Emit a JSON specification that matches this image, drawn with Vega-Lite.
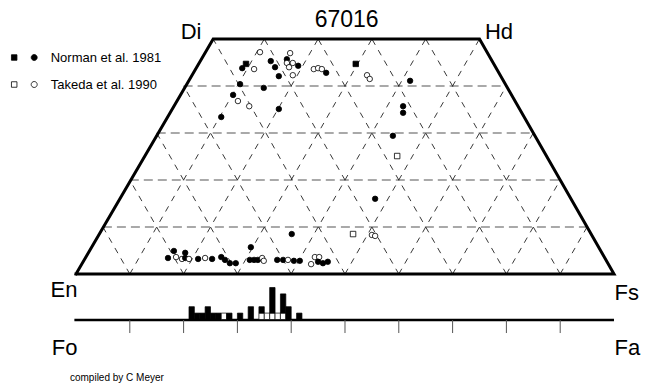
{
  "$schema": "https://vega.github.io/schema/vega-lite/v6.json",
  "width": 653,
  "height": 389,
  "padding": 0,
  "autosize": {"type": "none"},
  "background": "white",
  "config": {"view": {"stroke": null}, "font": "Liberation Sans"},
  "datasets": {
    "trap": [
      {"x": 0, "w": 0, "o": 1},
      {"x": 25.5, "w": 50, "o": 2},
      {"x": 75, "w": 50, "o": 3},
      {"x": 100, "w": 0, "o": 4},
      {"x": 0, "w": 0, "o": 5}
    ],
    "hgrid": [
      {"x1": 5, "w1": 10, "x2": 95, "w2": 10},
      {"x1": 10, "w1": 20, "x2": 90, "w2": 20},
      {"x1": 15, "w1": 30, "x2": 85, "w2": 30},
      {"x1": 20, "w1": 40, "x2": 80, "w2": 40}
    ],
    "dgrid": [
      {"x1": 10, "w1": 0, "x2": 35, "w2": 50},
      {"x1": 20, "w1": 0, "x2": 45, "w2": 50},
      {"x1": 30, "w1": 0, "x2": 55, "w2": 50},
      {"x1": 40, "w1": 0, "x2": 65, "w2": 50},
      {"x1": 50, "w1": 0, "x2": 75, "w2": 50},
      {"x1": 60, "w1": 0, "x2": 80, "w2": 40},
      {"x1": 70, "w1": 0, "x2": 85, "w2": 30},
      {"x1": 80, "w1": 0, "x2": 90, "w2": 20},
      {"x1": 90, "w1": 0, "x2": 95, "w2": 10},
      {"x1": 10, "w1": 0, "x2": 5, "w2": 10},
      {"x1": 20, "w1": 0, "x2": 10, "w2": 20},
      {"x1": 30, "w1": 0, "x2": 15, "w2": 30},
      {"x1": 40, "w1": 0, "x2": 20, "w2": 40},
      {"x1": 50, "w1": 0, "x2": 25.5, "w2": 50},
      {"x1": 60, "w1": 0, "x2": 35, "w2": 50},
      {"x1": 70, "w1": 0, "x2": 45, "w2": 50},
      {"x1": 80, "w1": 0, "x2": 55, "w2": 50},
      {"x1": 90, "w1": 0, "x2": 65, "w2": 50}
    ],
    "fofa": [{"x1": -0.3, "w1": -9.79, "x2": 100, "w2": -9.79}],
    "ticks": [
      {"x1": 10, "w1": -9.79, "w2": -12.56},
      {"x1": 20, "w1": -9.79, "w2": -12.56},
      {"x1": 30, "w1": -9.79, "w2": -12.56},
      {"x1": 40, "w1": -9.79, "w2": -12.56},
      {"x1": 50, "w1": -9.79, "w2": -12.56},
      {"x1": 60, "w1": -9.79, "w2": -12.56},
      {"x1": 70, "w1": -9.79, "w2": -12.56},
      {"x1": 80, "w1": -9.79, "w2": -12.56},
      {"x1": 90, "w1": -9.79, "w2": -12.56}
    ],
    "labR": [
      {"t": "Di", "x": 23.33, "w": 50.0},
      {"t": "En", "x": 0.28, "w": -4.89},
      {"t": "Fo", "x": 0.28, "w": -17.13}
    ],
    "labL": [
      {"t": "Hd", "x": 76.02, "w": 50.0},
      {"t": "Fs", "x": 100.1, "w": -5.53},
      {"t": "Fa", "x": 100.1, "w": -17.13}
    ],
    "title": [{"t": "67016", "x": 50.3, "w": 52.55}],
    "note": [{"t": "compiled by C Meyer", "x": -1.12, "w": -22.77}],
    "pts": [
      {"x": 34.2, "w": 47.2, "src": "Takeda et al. 1990", "sym": "circle"},
      {"x": 31.6, "w": 44.7, "src": "Norman et al. 1981", "sym": "square"},
      {"x": 30.9, "w": 43.8, "src": "Norman et al. 1981", "sym": "circle"},
      {"x": 33.1, "w": 43.6, "src": "Takeda et al. 1990", "sym": "circle"},
      {"x": 39.8, "w": 47.0, "src": "Takeda et al. 1990", "sym": "circle"},
      {"x": 36.2, "w": 45.3, "src": "Norman et al. 1981", "sym": "circle"},
      {"x": 39.2, "w": 45.7, "src": "Norman et al. 1981", "sym": "circle"},
      {"x": 39.2, "w": 44.9, "src": "Takeda et al. 1990", "sym": "circle"},
      {"x": 40.3, "w": 44.9, "src": "Takeda et al. 1990", "sym": "circle"},
      {"x": 39.6, "w": 44.0, "src": "Takeda et al. 1990", "sym": "circle"},
      {"x": 41.3, "w": 44.3, "src": "Norman et al. 1981", "sym": "circle"},
      {"x": 37.0, "w": 44.0, "src": "Norman et al. 1981", "sym": "circle"},
      {"x": 37.7, "w": 42.1, "src": "Norman et al. 1981", "sym": "circle"},
      {"x": 40.3, "w": 42.3, "src": "Takeda et al. 1990", "sym": "circle"},
      {"x": 44.2, "w": 43.6, "src": "Takeda et al. 1990", "sym": "circle"},
      {"x": 45.0, "w": 43.8, "src": "Takeda et al. 1990", "sym": "circle"},
      {"x": 45.7, "w": 43.6, "src": "Takeda et al. 1990", "sym": "circle"},
      {"x": 46.5, "w": 42.8, "src": "Norman et al. 1981", "sym": "circle"},
      {"x": 52.0, "w": 44.7, "src": "Norman et al. 1981", "sym": "square"},
      {"x": 54.1, "w": 42.3, "src": "Takeda et al. 1990", "sym": "circle"},
      {"x": 54.6, "w": 41.5, "src": "Takeda et al. 1990", "sym": "circle"},
      {"x": 30.5, "w": 40.4, "src": "Norman et al. 1981", "sym": "circle"},
      {"x": 34.9, "w": 39.6, "src": "Norman et al. 1981", "sym": "circle"},
      {"x": 29.2, "w": 38.1, "src": "Norman et al. 1981", "sym": "circle"},
      {"x": 30.1, "w": 36.8, "src": "Takeda et al. 1990", "sym": "circle"},
      {"x": 32.2, "w": 35.7, "src": "Takeda et al. 1990", "sym": "circle"},
      {"x": 37.7, "w": 35.1, "src": "Norman et al. 1981", "sym": "circle"},
      {"x": 27.0, "w": 33.4, "src": "Norman et al. 1981", "sym": "circle"},
      {"x": 62.1, "w": 41.1, "src": "Norman et al. 1981", "sym": "circle"},
      {"x": 60.8, "w": 35.7, "src": "Norman et al. 1981", "sym": "circle"},
      {"x": 60.8, "w": 34.3, "src": "Norman et al. 1981", "sym": "circle"},
      {"x": 58.9, "w": 29.4, "src": "Norman et al. 1981", "sym": "circle"},
      {"x": 59.7, "w": 25.1, "src": "Takeda et al. 1990", "sym": "square"},
      {"x": 55.6, "w": 16.0, "src": "Norman et al. 1981", "sym": "circle"},
      {"x": 40.1, "w": 8.5, "src": "Norman et al. 1981", "sym": "circle"},
      {"x": 51.5, "w": 8.5, "src": "Takeda et al. 1990", "sym": "square"},
      {"x": 55.0, "w": 8.3, "src": "Takeda et al. 1990", "sym": "circle"},
      {"x": 55.6, "w": 8.1, "src": "Takeda et al. 1990", "sym": "circle"},
      {"x": 32.5, "w": 5.7, "src": "Norman et al. 1981", "sym": "circle"},
      {"x": 18.2, "w": 4.9, "src": "Norman et al. 1981", "sym": "circle"},
      {"x": 20.3, "w": 4.5, "src": "Norman et al. 1981", "sym": "circle"},
      {"x": 17.1, "w": 3.4, "src": "Norman et al. 1981", "sym": "circle"},
      {"x": 18.6, "w": 3.6, "src": "Takeda et al. 1990", "sym": "circle"},
      {"x": 19.7, "w": 3.2, "src": "Takeda et al. 1990", "sym": "circle"},
      {"x": 20.3, "w": 3.4, "src": "Norman et al. 1981", "sym": "circle"},
      {"x": 21.0, "w": 3.2, "src": "Takeda et al. 1990", "sym": "circle"},
      {"x": 22.7, "w": 3.2, "src": "Norman et al. 1981", "sym": "circle"},
      {"x": 24.0, "w": 3.4, "src": "Takeda et al. 1990", "sym": "circle"},
      {"x": 25.3, "w": 3.2, "src": "Norman et al. 1981", "sym": "circle"},
      {"x": 27.0, "w": 3.6, "src": "Norman et al. 1981", "sym": "circle"},
      {"x": 27.7, "w": 3.0, "src": "Norman et al. 1981", "sym": "circle"},
      {"x": 28.6, "w": 2.3, "src": "Norman et al. 1981", "sym": "circle"},
      {"x": 29.7, "w": 2.3, "src": "Norman et al. 1981", "sym": "circle"},
      {"x": 32.3, "w": 3.0, "src": "Norman et al. 1981", "sym": "circle"},
      {"x": 33.1, "w": 3.0, "src": "Norman et al. 1981", "sym": "circle"},
      {"x": 33.8, "w": 3.0, "src": "Norman et al. 1981", "sym": "circle"},
      {"x": 34.6, "w": 3.4, "src": "Takeda et al. 1990", "sym": "circle"},
      {"x": 34.9, "w": 2.8, "src": "Takeda et al. 1990", "sym": "circle"},
      {"x": 37.4, "w": 3.0, "src": "Norman et al. 1981", "sym": "circle"},
      {"x": 38.5, "w": 3.0, "src": "Norman et al. 1981", "sym": "circle"},
      {"x": 39.4, "w": 3.0, "src": "Takeda et al. 1990", "sym": "circle"},
      {"x": 40.5, "w": 2.8, "src": "Norman et al. 1981", "sym": "circle"},
      {"x": 41.6, "w": 2.8, "src": "Norman et al. 1981", "sym": "circle"},
      {"x": 44.4, "w": 3.6, "src": "Takeda et al. 1990", "sym": "circle"},
      {"x": 45.2, "w": 3.6, "src": "Takeda et al. 1990", "sym": "circle"},
      {"x": 43.7, "w": 2.1, "src": "Takeda et al. 1990", "sym": "circle"},
      {"x": 45.0, "w": 2.6, "src": "Norman et al. 1981", "sym": "circle"},
      {"x": 45.9, "w": 2.3, "src": "Norman et al. 1981", "sym": "circle"},
      {"x": 46.8, "w": 2.6, "src": "Norman et al. 1981", "sym": "circle"}
    ],
    "hist": [
      {"b0": 21, "b1": 22, "c0": 0, "c1": 2, "src": "Norman et al. 1981"},
      {"b0": 22, "b1": 23, "c0": 0, "c1": 1, "src": "Norman et al. 1981"},
      {"b0": 23, "b1": 24, "c0": 0, "c1": 1, "src": "Norman et al. 1981"},
      {"b0": 24, "b1": 25, "c0": 0, "c1": 2, "src": "Norman et al. 1981"},
      {"b0": 25, "b1": 26, "c0": 0, "c1": 1, "src": "Norman et al. 1981"},
      {"b0": 26, "b1": 27, "c0": 0, "c1": 1, "src": "Norman et al. 1981"},
      {"b0": 27, "b1": 28, "c0": 0, "c1": 1, "src": "Takeda et al. 1990"},
      {"b0": 28, "b1": 29, "c0": 0, "c1": 1, "src": "Norman et al. 1981"},
      {"b0": 30, "b1": 31, "c0": 0, "c1": 1, "src": "Norman et al. 1981"},
      {"b0": 32, "b1": 33, "c0": 0, "c1": 2, "src": "Norman et al. 1981"},
      {"b0": 34, "b1": 35, "c0": 0, "c1": 1, "src": "Takeda et al. 1990"},
      {"b0": 34, "b1": 35, "c0": 1, "c1": 2, "src": "Norman et al. 1981"},
      {"b0": 35, "b1": 36, "c0": 0, "c1": 1, "src": "Takeda et al. 1990"},
      {"b0": 36, "b1": 37, "c0": 0, "c1": 1, "src": "Takeda et al. 1990"},
      {"b0": 36, "b1": 37, "c0": 1, "c1": 5, "src": "Norman et al. 1981"},
      {"b0": 37, "b1": 38, "c0": 0, "c1": 1, "src": "Takeda et al. 1990"},
      {"b0": 38, "b1": 39, "c0": 0, "c1": 1, "src": "Takeda et al. 1990"},
      {"b0": 38, "b1": 39, "c0": 1, "c1": 4, "src": "Norman et al. 1981"},
      {"b0": 39, "b1": 40, "c0": 0, "c1": 2, "src": "Norman et al. 1981"},
      {"b0": 41, "b1": 42, "c0": 0, "c1": 1, "src": "Norman et al. 1981"}
    ]
  },
  "layer": [
    {
      "layer": [
        {
          "data": {"name": "hgrid"},
          "mark": {"type": "rule", "stroke": "#555", "strokeWidth": 1.2, "strokeDash": [9, 5]},
          "encoding": {
            "x": {"field": "x1", "type": "quantitative", "scale": {"domain": [-14.126, 107.25], "nice": false, "zero": false}, "axis": null},
            "x2": {"field": "x2"},
            "y": {"field": "w1", "type": "quantitative", "scale": {"domain": [-24.47, 58.3], "nice": false, "zero": false}, "axis": null},
            "y2": {"field": "w2"}
          }
        },
        {
          "data": {"name": "dgrid"},
          "mark": {"type": "rule", "stroke": "#222", "strokeWidth": 0.9, "strokeDash": [6, 6]},
          "encoding": {
            "x": {"field": "x1", "type": "quantitative"},
            "x2": {"field": "x2"},
            "y": {"field": "w1", "type": "quantitative"},
            "y2": {"field": "w2"}
          }
        },
        {
          "data": {"name": "trap"},
          "mark": {"type": "line", "stroke": "black", "strokeWidth": 3, "strokeJoin": "miter", "strokeCap": "square"},
          "encoding": {
            "x": {"field": "x", "type": "quantitative"},
            "y": {"field": "w", "type": "quantitative"},
            "order": {"field": "o", "type": "quantitative"}
          }
        },
        {
          "data": {"name": "fofa"},
          "mark": {"type": "rule", "stroke": "black", "strokeWidth": 2.5},
          "encoding": {
            "x": {"field": "x1", "type": "quantitative"},
            "x2": {"field": "x2"},
            "y": {"field": "w1", "type": "quantitative"},
            "y2": {"field": "w2"}
          }
        },
        {
          "data": {"name": "ticks"},
          "mark": {"type": "rule", "stroke": "#555", "strokeWidth": 1},
          "encoding": {
            "x": {"field": "x1", "type": "quantitative"},
            "y": {"field": "w1", "type": "quantitative"},
            "y2": {"field": "w2"}
          }
        },
        {
          "data": {"name": "pts"},
          "mark": {"type": "point", "filled": true, "stroke": "black", "strokeWidth": 0.8, "opacity": 1, "size": 30},
          "encoding": {
            "x": {"field": "x", "type": "quantitative"},
            "y": {"field": "w", "type": "quantitative"},
            "fill": {
              "field": "src", "type": "nominal",
              "scale": {"domain": ["Norman et al. 1981", "Takeda et al. 1990"], "range": ["black", "white"]},
              "legend": {
                "orient": "none", "legendX": 17.7, "legendY": 51, "title": null, "padding": 0,
                "symbolType": "M-2.55,-0.55H-1.45V0.55H-2.55Z M1.4,0A0.6,0.6 0 1,0 2.6,0A0.6,0.6 0 1,0 1.4,0Z",
                "symbolSize": 100, "symbolStrokeColor": "black", "symbolStrokeWidth": 0.8,
                "labelFont": "Liberation Sans", "labelFontSize": 13, "labelColor": "black", "labelOffset": 20,
                "rowPadding": 13,
                "encode": {
                  "symbols": {"update": {
                    "shape": {"value": "M-2.55,-0.55H-1.45V0.55H-2.55Z M1.4,0A0.6,0.6 0 1,0 2.6,0A0.6,0.6 0 1,0 1.4,0Z"},
                    "size": {"value": 100}, "stroke": {"value": "black"}, "strokeWidth": {"value": 0.8}, "opacity": {"value": 1}
                  }}
                }
              }
            },
            "shape": {"field": "sym", "type": "nominal", "scale": {"domain": ["circle", "square"], "range": ["circle", "square"]}, "legend": null}
          }
        },
        {
          "data": {"name": "labR"},
          "mark": {"type": "text", "align": "right", "baseline": "alphabetic", "fontSize": 22, "font": "Liberation Sans", "color": "black"},
          "encoding": {
            "x": {"field": "x", "type": "quantitative"},
            "y": {"field": "w", "type": "quantitative"},
            "text": {"field": "t"}
          }
        },
        {
          "data": {"name": "labL"},
          "mark": {"type": "text", "align": "left", "baseline": "alphabetic", "fontSize": 22, "font": "Liberation Sans", "color": "black"},
          "encoding": {
            "x": {"field": "x", "type": "quantitative"},
            "y": {"field": "w", "type": "quantitative"},
            "text": {"field": "t"}
          }
        },
        {
          "data": {"name": "title"},
          "mark": {"type": "text", "align": "center", "baseline": "alphabetic", "fontSize": 23, "font": "Liberation Sans", "color": "black"},
          "encoding": {
            "x": {"field": "x", "type": "quantitative"},
            "y": {"field": "w", "type": "quantitative"},
            "text": {"field": "t"}
          }
        },
        {
          "data": {"name": "note"},
          "mark": {"type": "text", "align": "left", "baseline": "alphabetic", "fontSize": 10, "font": "Liberation Sans", "color": "black"},
          "encoding": {
            "x": {"field": "x", "type": "quantitative"},
            "y": {"field": "w", "type": "quantitative"},
            "text": {"field": "t"}
          }
        }
      ]
    },
    {
      "data": {"name": "hist"},
      "mark": {"type": "rect", "stroke": "black", "strokeWidth": 0.7},
      "encoding": {
        "x": {"field": "b0", "type": "quantitative"},
        "x2": {"field": "b1"},
        "y": {"field": "c0", "type": "quantitative", "scale": {"domain": [-10.86, 49.92], "nice": false, "zero": false}, "axis": null},
        "y2": {"field": "c1"},
        "fill": {"field": "src", "type": "nominal", "scale": {"domain": ["Norman et al. 1981", "Takeda et al. 1990"], "range": ["black", "white"]}}
      }
    }
  ],
  "resolve": {"scale": {"y": "independent"}}
}
